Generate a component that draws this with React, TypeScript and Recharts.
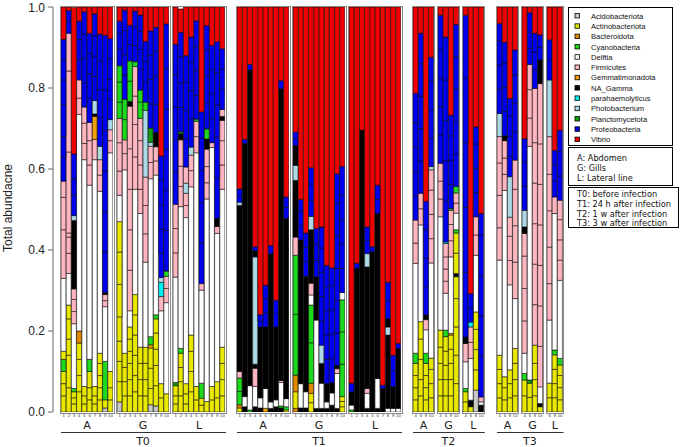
import { Bar, BarChart, Cell, XAxis, YAxis } from 'recharts'

// taxon codes used in the sample tables below
const taxonNames: Record<string, string> = {
  Ac: 'Acidobacteriota',
  Y: 'Actinobacteriota',
  Ba: 'Bacteroidota',
  Cy: 'Cyanobacteria',
  W: 'Delftia',
  P: 'Firmicutes',
  Ge: 'Gemmatimonadota',
  K: 'NA_Gamma',
  Cn: 'parahaemolyticus',
  Lb: 'Photobacterium',
  Pl: 'Planctomycetota',
  B: 'Proteobacteria',
  R: 'Vibrio',
}
const taxonColors: Record<string, string> = {
  Ac: '#c8c8c8',
  Y: '#e8e800',
  Ba: '#e08a00',
  Cy: '#1ed81e',
  W: '#ffffff',
  P: '#ffb6c1',
  Ge: '#f0a000',
  K: '#000000',
  Cn: '#00f0f0',
  Lb: '#add8e6',
  Pl: '#10a010',
  B: '#0000f0',
  R: '#f00000',
}
const legendOrder = ['Ac', 'Y', 'Ba', 'Cy', 'W', 'P', 'Ge', 'K', 'Cn', 'Lb', 'Pl', 'B', 'R']

const sampleNums10 = ['1', '2', '3', '4', '5', '6', '7', '8', '9', '10']
const sampleNums4 = ['4', '6', '8', '10']
const sampleNums3 = ['6', '8', '10']

// each bar: segments bottom -> top, [taxon, ...abundances of its OTUs]
type Seg = [string, ...number[]]

const t0A: Seg[][] = [
  [['Y', 0.04, 0.03, 0.03], ['Cy', 0.03], ['Y', 0.02], ['W', 0.18], ['P', 0.12, 0.08, 0.04], ['B', 0.06, 0.05, 0.08, 0.06, 0.05, 0.05], ['R', 0.08]],
  [['Y', 0.06, 0.08, 0.04, 0.05, 0.034], ['W', 0.078], ['P', 0.05, 0.04, 0.01, 0.2, 0.2, 0.093], ['B', 0.03, 0.026], ['R', 0.009]],
  [['Y', 0.02, 0.015, 0.015], ['Cy', 0.008], ['W', 0.16], ['P', 0.03, 0.03, 0.026], ['K', 0.169], ['Lb', 0.012], ['B', 0.05, 0.04, 0.062], ['R', 0.362]],
  [['Y', 0.05, 0.04, 0.04, 0.04], ['Ba', 0.03], ['W', 0.535], ['P', 0.04, 0.045], ['B', 0.05, 0.05, 0.045], ['R', 0.035]],
  [['Y', 0.02, 0.02, 0.023], ['W', 0.56], ['P', 0.04, 0.05, 0.04], ['B', 0.06, 0.06, 0.06, 0.055], ['R', 0.012]],
  [['Y', 0.03, 0.03, 0.04], ['Cy', 0.03], ['W', 0.43], ['P', 0.05, 0.06, 0.045], ['B', 0.06, 0.06, 0.05, 0.05], ['R', 0.065]],
  [['Y', 0.02, 0.02, 0.023], ['W', 0.56], ['P', 0.05], ['Ge', 0.057], ['K', 0.006], ['Lb', 0.033], ['B', 0.06, 0.05, 0.05, 0.054], ['R', 0.017]],
  [['Y', 0.03, 0.03, 0.03, 0.03, 0.025], ['W', 0.4], ['P', 0.04, 0.038], ['Lb', 0.033], ['B', 0.07, 0.07, 0.07, 0.067], ['R', 0.067]],
  [['Ac', 0.01], ['Y', 0.02], ['Cy', 0.095], ['W', 0.135], ['P', 0.015, 0.015], ['K', 0.005], ['B', 0.1, 0.1, 0.1, 0.1, 0.1, 0.135], ['R', 0.07]],
  [['Y', 0.03, 0.03, 0.04], ['W', 0.54], ['P', 0.03, 0.027], ['Lb', 0.025], ['B', 0.05, 0.05, 0.05, 0.05], ['R', 0.078]],
]
const t0G: Seg[][] = [
  [['Ac', 0.025], ['Y', 0.05, 0.05, 0.05, 0.06, 0.08, 0.08, 0.075], ['W', 0.065], ['P', 0.06, 0.07, 0.06], ['Cy', 0.04, 0.05, 0.04], ['B', 0.04, 0.04, 0.03], ['R', 0.035]],
  [['Y', 0.04, 0.035, 0.035, 0.035], ['W', 0.453], ['P', 0.04, 0.034], ['Cy', 0.05, 0.05], ['B', 0.06, 0.05, 0.06, 0.05], ['R', 0.008]],
  [['Y', 0.04, 0.04, 0.04, 0.03, 0.03, 0.03], ['W', 0.04], ['P', 0.1, 0.1, 0.1, 0.1, 0.105], ['K', 0.012], ['Cy', 0.05, 0.05], ['B', 0.04, 0.048], ['R', 0.045]],
  [['Y', 0.05, 0.04, 0.05, 0.05, 0.05, 0.05], ['W', 0.26], ['P', 0.08, 0.08, 0.07, 0.073], ['Cy', 0.012], ['B', 0.04, 0.045, 0.04], ['R', 0.01]],
  [['Y', 0.04, 0.04, 0.04, 0.04], ['W', 0.33], ['P', 0.06, 0.06, 0.06, 0.055], ['Cy', 0.04, 0.03], ['B', 0.05, 0.05, 0.045, 0.04], ['R', 0.02]],
  [['Y', 0.04, 0.04, 0.04, 0.04], ['W', 0.21], ['P', 0.07, 0.07, 0.07], ['Lb', 0.165], ['Cy', 0.02], ['B', 0.05, 0.05, 0.05], ['R', 0.085]],
  [['Ac', 0.018], ['Y', 0.04, 0.05, 0.05], ['Ge', 0.008], ['Cy', 0.02], ['W', 0.39], ['P', 0.04, 0.04], ['Lb', 0.01], ['Pl', 0.035], ['B', 0.06, 0.06, 0.06, 0.06], ['R', 0.059]],
  [['Ac', 0.015], ['Y', 0.05, 0.05, 0.04, 0.04, 0.035], ['Cy', 0.01], ['W', 0.345], ['P', 0.035, 0.035], ['K', 0.035], ['B', 0.07, 0.07, 0.06, 0.06], ['R', 0.05]],
  [['Y', 0.035, 0.035], ['W', 0.18], ['P', 0.035], ['Cn', 0.035], ['Lb', 0.012], ['B', 0.06, 0.06, 0.06, 0.06, 0.06], ['R', 0.368]],
  [['Y', 0.045], ['W', 0.225], ['P', 0.035, 0.03], ['Cy', 0.013], ['B', 0.1, 0.1, 0.1, 0.1, 0.1, 0.11], ['R', 0.042]],
]
const t0L: Seg[][] = [
  [['Y', 0.02, 0.02, 0.025], ['Pl', 0.008], ['W', 0.26], ['P', 0.06, 0.06, 0.06], ['B', 0.08, 0.08, 0.08, 0.08, 0.075], ['R', 0.092]],
  [['Y', 0.04, 0.035, 0.035, 0.035], ['Cy', 0.012], ['W', 0.35], ['P', 0.05, 0.05, 0.065], ['K', 0.015], ['Pl', 0.005], ['B', 0.06, 0.06, 0.065, 0.06], ['R', 0.058]],
  [['Y', 0.02, 0.025, 0.025], ['W', 0.41], ['P', 0.03, 0.03], ['Lb', 0.025], ['P', 0.04], ['B', 0.07, 0.07, 0.07, 0.065], ['R', 0.12]],
  [['Y', 0.05, 0.05, 0.05, 0.04], ['W', 0.366], ['P', 0.04, 0.038], ['Lb', 0.02], ['B', 0.07, 0.07, 0.07, 0.062], ['R', 0.074]],
  [['Y', 0.03, 0.033], ['W', 0.577], ['P', 0.04, 0.038], ['Cy', 0.005], ['B', 0.06, 0.06, 0.06, 0.063], ['R', 0.034]],
  [['Y', 0.017, 0.017], ['Cy', 0.037], ['W', 0.23], ['P', 0.016], ['B', 0.1, 0.1, 0.08, 0.08, 0.064], ['R', 0.259]],
  [['Y', 0.026], ['W', 0.5], ['P', 0.04, 0.04, 0.043], ['K', 0.025], ['Cy', 0.025], ['B', 0.065, 0.065, 0.065, 0.06], ['R', 0.046]],
  [['Y', 0.03, 0.033], ['W', 0.59], ['P', 0.012], ['B', 0.06, 0.06, 0.06, 0.06], ['R', 0.095]],
  [['Y', 0.035, 0.04], ['W', 0.366], ['P', 0.017], ['K', 0.02], ['B', 0.1, 0.1, 0.08, 0.08, 0.076], ['R', 0.086]],
  [['Y', 0.04, 0.04, 0.04, 0.04], ['W', 0.39], ['P', 0.06, 0.06, 0.05], ['K', 0.01], ['P', 0.017], ['B', 0.05, 0.05, 0.05], ['R', 0.103]],
]
const t1A: Seg[][] = [
  [['Y', 0.01], ['Ba', 0.008], ['Cy', 0.033, 0.033], ['P', 0.016], ['K', 0.41], ['Lb', 0.008], ['B', 0.015, 0.018], ['R', 0.449]],
  [['K', 0.013], ['W', 0.025], ['K', 0.625], ['B', 0.01], ['R', 0.327]],
  [['Cy', 0.005], ['W', 0.06], ['K', 0.78], ['B', 0.013], ['R', 0.142]],
  [['K', 0.013], ['W', 0.05], ['P', 0.045], ['K', 0.01], ['Lb', 0.265], ['K', 0.015], ['B', 0.01], ['R', 0.592]],
  [['K', 0.01], ['W', 0.025], ['K', 0.175], ['B', 0.015, 0.015], ['R', 0.76]],
  [['Ge', 0.009], ['W', 0.049], ['K', 0.152], ['B', 0.035, 0.035, 0.033], ['R', 0.687]],
  [['K', 0.009], ['W', 0.016], ['K', 0.366], ['B', 0.02], ['R', 0.589]],
  [['K', 0.013], ['W', 0.017], ['K', 0.18], ['B', 0.033, 0.033], ['R', 0.724]],
  [['K', 0.01], ['Cy', 0.005], ['W', 0.058], ['P', 0.005], ['K', 0.72], ['B', 0.02], ['R', 0.182]],
  [['Y', 0.005], ['Cy', 0.008], ['W', 0.02], ['K', 0.445], ['B', 0.027, 0.026], ['R', 0.469]],
]
const t1G: Seg[][] = [
  [['Ba', 0.009], ['Y', 0.041], ['Ba', 0.041], ['Cy', 0.15, 0.146], ['P', 0.045], ['K', 0.14], ['Lb', 0.037], ['K', 0.049], ['B', 0.017, 0.016], ['R', 0.309]],
  [['K', 0.01], ['W', 0.06], ['K', 0.355], ['B', 0.035, 0.035, 0.03], ['R', 0.475]],
  [['K', 0.01], ['W', 0.04], ['K', 0.285], ['B', 0.036, 0.036, 0.035], ['R', 0.558]],
  [['Y', 0.023, 0.023], ['Ba', 0.025], ['Cy', 0.1, 0.093], ['W', 0.025], ['P', 0.029], ['K', 0.132], ['Lb', 0.033], ['B', 0.04, 0.04, 0.04], ['R', 0.397]],
  [['K', 0.009], ['W', 0.218], ['K', 0.107], ['B', 0.04, 0.04, 0.039], ['R', 0.547]],
  [['K', 0.009], ['W', 0.062], ['K', 0.049], ['Lb', 0.045], ['B', 0.06, 0.06, 0.06, 0.06, 0.052], ['R', 0.543]],
  [['K', 0.009], ['W', 0.016], ['K', 0.045], ['B', 0.06, 0.06, 0.06, 0.06, 0.052], ['R', 0.638]],
  [['K', 0.017], ['W', 0.03], ['K', 0.025], ['B', 0.06, 0.06, 0.06, 0.06, 0.044], ['R', 0.644]],
  [['K', 0.009], ['W', 0.086], ['P', 0.012], ['K', 0.008], ['B', 0.08, 0.08, 0.08, 0.08, 0.08, 0.073], ['R', 0.412]],
  [['Y', 0.013, 0.013, 0.012], ['Cy', 0.08, 0.08, 0.079], ['W', 0.018], ['B', 0.06, 0.06, 0.06, 0.06, 0.071], ['R', 0.394]],
]
const t1L: Seg[][] = [
  [['Cy', 0.005], ['W', 0.012], ['K', 0.033], ['B', 0.021], ['R', 0.929]],
  [['K', 0.355], ['B', 0.012], ['R', 0.633]],
  [['K', 0.696], ['R', 0.304]],
  [['K', 0.009], ['W', 0.037], ['P', 0.012], ['K', 0.3], ['Lb', 0.033], ['B', 0.033, 0.033], ['R', 0.543]],
  [['K', 0.396], ['B', 0.012], ['R', 0.592]],
  [['K', 0.009], ['W', 0.074], ['K', 0.407], ['B', 0.035, 0.035], ['R', 0.44]],
  [['K', 0.058], ['B', 0.008], ['R', 0.934]],
  [['W', 0.009], ['K', 0.181], ['Lb', 0.02], ['K', 0.02], ['B', 0.045, 0.045], ['R', 0.68]],
  [['W', 0.009], ['K', 0.053], ['B', 0.04, 0.038], ['R', 0.86]],
  [['W', 0.009], ['K', 0.148], ['B', 0.012], ['R', 0.831]],
]
const t2A: Seg[][] = [
  [['Y', 0.03, 0.03, 0.03, 0.03], ['Cy', 0.025], ['W', 0.222], ['P', 0.05, 0.057], ['B', 0.06, 0.06, 0.06, 0.06, 0.073], ['R', 0.213]],
  [['Y', 0.04, 0.04, 0.05, 0.05, 0.043], ['W', 0.239], ['P', 0.04, 0.038], ['B', 0.08, 0.08, 0.08, 0.08, 0.075], ['R', 0.065]],
  [['Y', 0.03, 0.03, 0.03, 0.03], ['Cy', 0.025], ['W', 0.058], ['P', 0.025], ['K', 0.012], ['B', 0.07, 0.07, 0.07, 0.07], ['R', 0.48]],
  [['Y', 0.035, 0.035, 0.035, 0.028], ['W', 0.235], ['P', 0.06, 0.06, 0.06, 0.05], ['Lb', 0.008], ['B', 0.07, 0.07, 0.07, 0.06], ['R', 0.124]],
]
const t2G: Seg[][] = [
  [['Y', 0.04, 0.04, 0.04, 0.04, 0.042], ['W', 0.28], ['P', 0.044, 0.044, 0.044], ['B', 0.07, 0.07, 0.07, 0.07, 0.086], ['R', 0.02]],
  [['Y', 0.04, 0.04, 0.035, 0.035, 0.036], ['Cy', 0.016], ['W', 0.091], ['P', 0.03, 0.03, 0.03, 0.033], ['Cn', 0.004], ['B', 0.1, 0.1, 0.1, 0.1, 0.106], ['R', 0.074]],
  [['Y', 0.04, 0.04, 0.04, 0.035, 0.035], ['Ge', 0.004], ['W', 0.189], ['P', 0.04, 0.04, 0.035], ['Cy', 0.004], ['B', 0.06, 0.06, 0.06, 0.051], ['R', 0.267]],
  [['Y', 0.07, 0.07, 0.07, 0.07, 0.054], ['K', 0.008], ['Y', 0.05, 0.05], ['Cy', 0.008], ['W', 0.041], ['P', 0.025, 0.025], ['Cy', 0.016], ['B', 0.08, 0.08, 0.08, 0.08, 0.08], ['R', 0.043]],
]
const t2L: Seg[][] = [
  [['Y', 0.025, 0.025], ['Cy', 0.008], ['W', 0.066], ['P', 0.045], ['K', 0.016], ['B', 0.16, 0.16, 0.16, 0.16, 0.155], ['R', 0.02]],
  [['Y', 0.013], ['K', 0.016], ['W', 0.103], ['P', 0.04, 0.038], ['Cn', 0.012], ['B', 0.035, 0.035], ['R', 0.708]],
  [['Ac', 0.054], ['Y', 0.05, 0.05, 0.05, 0.043], ['W', 0.14], ['P', 0.05, 0.045], ['B', 0.06, 0.06, 0.06, 0.042], ['R', 0.296]],
  [['K', 0.017], ['W', 0.008], ['P', 0.012], ['B', 0.1, 0.1, 0.1, 0.1, 0.053], ['R', 0.51]],
]
const t3A: Seg[][] = [
  [['Y', 0.035, 0.035, 0.035, 0.035], ['W', 0.235], ['P', 0.08, 0.08, 0.08, 0.065], ['Lb', 0.057], ['B', 0.06, 0.06, 0.06, 0.042], ['R', 0.041]],
  [['Y', 0.03, 0.03, 0.027], ['W', 0.46], ['P', 0.04, 0.04, 0.043], ['K', 0.012], ['B', 0.06, 0.06, 0.06, 0.051], ['R', 0.087]],
  [['Y', 0.035, 0.035, 0.034], ['W', 0.21], ['P', 0.06, 0.06, 0.047], ['Lb', 0.1], ['B', 0.05, 0.05, 0.05, 0.043], ['R', 0.226]],
  [['Y', 0.04, 0.04, 0.04, 0.037], ['W', 0.123], ['P', 0.09, 0.09, 0.09, 0.072], ['B', 0.07, 0.07, 0.07, 0.062], ['R', 0.106]],
]
const t3G: Seg[][] = [
  [['Y', 0.04, 0.039], ['Cy', 0.016], ['W', 0.05], ['P', 0.08, 0.08, 0.08, 0.056], ['K', 0.016], ['Lb', 0.041], ['B', 0.06, 0.06, 0.057], ['R', 0.325]],
  [['Y', 0.036, 0.035], ['Pl', 0.008], ['W', 0.577], ['P', 0.07, 0.07, 0.062], ['B', 0.04, 0.04, 0.048], ['R', 0.014]],
  [['Y', 0.04, 0.04, 0.04, 0.045], ['P', 0.1, 0.1, 0.1, 0.1, 0.1, 0.134], ['B', 0.045, 0.045, 0.046], ['R', 0.065]],
  [['Y', 0.013], ['K', 0.008], ['W', 0.041], ['P', 0.1, 0.1, 0.1, 0.1, 0.1, 0.1, 0.149], ['K', 0.058], ['B', 0.031, 0.031], ['R', 0.069]],
]
const t3L: Seg[][] = [
  [['Y', 0.035, 0.036], ['W', 0.156], ['P', 0.09, 0.09, 0.09, 0.09, 0.093], ['Lb', 0.14], ['B', 0.05, 0.049], ['R', 0.081]],
  [['Y', 0.035, 0.035, 0.035, 0.036], ['Cy', 0.012], ['W', 0.337], ['P', 0.041], ['B', 0.04, 0.04, 0.035], ['R', 0.354]],
  [['Y', 0.03, 0.03, 0.03, 0.026], ['Cy', 0.016], ['W', 0.193], ['P', 0.05, 0.05, 0.05, 0.048], ['B', 0.06, 0.06, 0.053], ['R', 0.304]],
]

const siteLabels = ['A: Abdomen', 'G: Gills', 'L: Lateral line']
const timeLabels = ['T0: before infection', 'T1: 24 h after infection', 'T2: 1 w after infection', 'T3: 3 w after infection']

const BAR_W = 5.2
const PLOT_TOP = 7
const PLOT_H = 405

const panels = [
  { time: 'T0', site: 'A', left: 61, samples: sampleNums10, bars: t0A },
  { time: 'T0', site: 'G', left: 117, samples: sampleNums10, bars: t0G },
  { time: 'T0', site: 'L', left: 173, samples: sampleNums10, bars: t0L },
  { time: 'T1', site: 'A', left: 237, samples: sampleNums10, bars: t1A },
  { time: 'T1', site: 'G', left: 293, samples: sampleNums10, bars: t1G },
  { time: 'T1', site: 'L', left: 349, samples: sampleNums10, bars: t1L },
  { time: 'T2', site: 'A', left: 413, samples: sampleNums4, bars: t2A },
  { time: 'T2', site: 'G', left: 438, samples: sampleNums4, bars: t2G },
  { time: 'T2', site: 'L', left: 463, samples: sampleNums4, bars: t2L },
  { time: 'T3', site: 'A', left: 497, samples: sampleNums4, bars: t3A },
  { time: 'T3', site: 'G', left: 522, samples: sampleNums4, bars: t3G },
  { time: 'T3', site: 'L', left: 547, samples: sampleNums3, bars: t3L },
]

const sans = '"Liberation Sans", Arial, sans-serif'
const dejavu = '"DejaVu Sans", sans-serif'

// tiny sample-number labels under every bar
function SampleTick(props: any) {
  const { x, y, payload } = props
  return (
    <text x={x} y={y + 3.6} textAnchor="middle" fontSize={4.2} fill="#333" fontFamily={sans}>
      {payload.value}
    </text>
  )
}

function Panel({ left, samples, bars }: { left: number; samples: string[]; bars: Seg[][] }) {
  const flat = bars.map((b) => b.flatMap(([code, ...vals]) => vals.map((v) => ({ code, v }))))
  const maxSeg = Math.max(...flat.map((f) => f.length))
  const keys = Array.from({ length: maxSeg }, (_, k) => `s${k}`)
  const rows = flat.map((f, i) => {
    const row: Record<string, string | number> = { id: samples[i] }
    keys.forEach((key, k) => (row[key] = f[k] ? f[k].v : 0))
    return row
  })
  const width = samples.length * BAR_W

  return (
    <>
      <div
        style={{
          position: 'absolute',
          left: left - 1.5,
          top: PLOT_TOP - 1.5,
          width: width + 3,
          height: PLOT_H + 3,
          border: '1px solid #8a8a8a',
          boxSizing: 'border-box',
        }}
      />
      <div style={{ position: 'absolute', left, top: 0 }}>
        <BarChart
          width={width}
          height={PLOT_TOP + PLOT_H + 9}
          data={rows}
          margin={{ top: PLOT_TOP, right: 0, bottom: 0, left: 0 }}
          barCategoryGap={0}
          barGap={0}
        >
          <XAxis
            dataKey="id"
            interval={0}
            tickLine={false}
            axisLine={false}
            height={9}
            tickSize={1}
            tickMargin={0}
            tick={<SampleTick />}
          />
          <YAxis hide type="number" domain={[0, 1]} allowDataOverflow />
          {keys.map((key, k) => (
            <Bar key={key} dataKey={key} stackId="a" isAnimationActive={false} stroke="#000" strokeWidth={0.55}>
              {flat.map((f, i) => (
                <Cell key={`c-${i}`} fill={f[k] ? taxonColors[f[k].code] : 'none'} />
              ))}
            </Bar>
          ))}
        </BarChart>
      </div>
    </>
  )
}

function AxisChart() {
  return (
    <div style={{ position: 'absolute', left: 0, top: 0 }}>
      <BarChart width={58} height={PLOT_TOP + PLOT_H + 8} data={[{ v: 0 }]} margin={{ top: PLOT_TOP, right: 0, bottom: 8, left: 0 }}>
        <XAxis hide dataKey="v" />
        <YAxis
          type="number"
          domain={[0, 1]}
          ticks={[0, 0.2, 0.4, 0.6, 0.8, 1]}
          tickFormatter={(v: number) => v.toFixed(1)}
          width={53}
          tickSize={5}
          tickMargin={3}
          stroke="#666"
          tick={{ fontSize: 12, fill: '#222', fontFamily: sans }}
        />
        <Bar dataKey="v" fill="none" isAnimationActive={false} />
      </BarChart>
    </div>
  )
}

export default function App() {
  const groups = ['T0', 'T1', 'T2', 'T3'].map((t) => {
    const ps = panels.filter((p) => p.time === t)
    const last = ps[ps.length - 1]
    return { t, x1: ps[0].left, x2: last.left + last.samples.length * BAR_W }
  })

  return (
    <div style={{ position: 'absolute', left: 0, top: 0, width: 685, height: 447, background: '#fff', overflow: 'hidden' }}>
      <AxisChart />
      {panels.map((p) => (
        <Panel key={p.time + p.site} left={p.left} samples={p.samples} bars={p.bars} />
      ))}
      <svg width={685} height={447} style={{ position: 'absolute', left: 0, top: 0, pointerEvents: 'none' }}>
        <text
          transform="translate(12, 208) rotate(-90)"
          textAnchor="middle"
          fontFamily={sans}
          fontSize={12}
          fill="#222"
        >
          Total abundacne
        </text>
        {panels.map((p) => (
          <text
            key={`lab-${p.time}${p.site}`}
            x={p.left + (p.samples.length * BAR_W) / 2}
            y={429}
            textAnchor="middle"
            fontFamily={dejavu}
            fontSize={11}
            fill="#222"
          >
            {p.site}
          </text>
        ))}
        {groups.map((g) => (
          <g key={g.t}>
            <line x1={g.x1} x2={g.x2 + 1} y1={432.5} y2={432.5} stroke="#333" strokeWidth={1} />
            <text x={(g.x1 + g.x2) / 2} y={444.5} textAnchor="middle" fontFamily={dejavu} fontSize={11} fill="#222">
              {g.t}
            </text>
          </g>
        ))}
        {/* legend */}
        <rect x={568.5} y={7.5} width={104} height={138} fill="#fff" stroke="#000" strokeWidth={1} />
        {legendOrder.map((code, i) => (
          <g key={code}>
            <rect x={575} y={13.5 + i * 10.3} width={4.5} height={4.5} fill={taxonColors[code]} stroke="#000" strokeWidth={0.8} />
            <text x={591} y={18.6 + i * 10.3} fontFamily={sans} fontSize={7.6} fill="#111">
              {taxonNames[code]}
            </text>
          </g>
        ))}
        <rect x={568.5} y={147.5} width={104} height={38} fill="#fff" stroke="#000" strokeWidth={1} />
        {siteLabels.map((s, i) => (
          <text key={s} x={577} y={161 + i * 10} fontFamily={dejavu} fontSize={8.2} fill="#111">
            {s}
          </text>
        ))}
        <rect x={568.5} y={187.5} width={110} height={40} fill="#fff" stroke="#000" strokeWidth={1} />
        {timeLabels.map((s, i) => (
          <text key={s} x={577} y={197 + i * 9.8} fontFamily={dejavu} fontSize={8.2} fill="#111">
            {s}
          </text>
        ))}
      </svg>
    </div>
  )
}
